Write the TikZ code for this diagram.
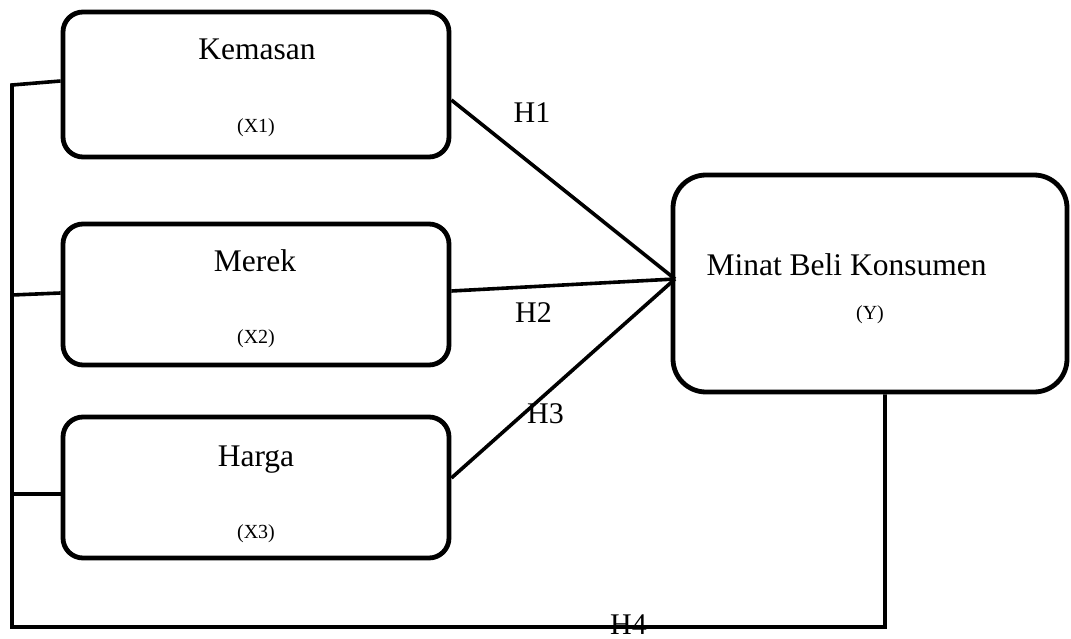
\documentclass[tikz,border=0pt]{standalone}
\usepackage{fontspec}
\setmainfont{Liberation Serif}
\usetikzlibrary{calc}
\tikzset{
  varbox/.style={draw=black, line width=4.8pt, rounded corners=20pt, inner sep=0pt, fill=white},
  ybox/.style={draw=black, line width=4.8pt, rounded corners=33pt, inner sep=0pt, fill=white},
  conn/.style={draw=black, line width=3.6pt, line join=miter},
  mainlbl/.style={anchor=base, inner sep=0pt, font=\fontsize{31.5}{36}\selectfont},
  sublbl/.style={anchor=base, inner sep=0pt, font=\fontsize{20}{24}\selectfont},
  hlbl/.style={anchor=base, inner sep=0pt, font=\fontsize{30}{34}\selectfont}
}
\begin{document}
\begin{tikzpicture}[x=1pt,y=-1pt]
\useasboundingbox (0,0) rectangle (1071,639);
% boxes
\node[varbox, minimum width=386pt, minimum height=145pt] (k) at (256,84.5) {};
\node[varbox, minimum width=386pt, minimum height=141pt] (m) at (256,294.5) {};
\node[varbox, minimum width=386pt, minimum height=141pt] (h) at (256,487.5) {};
\node[ybox, minimum width=394pt, minimum height=217pt] (y) at (870,283.5) {};
% texts
\node[mainlbl] (tk) at (257,60) {Kemasan};
\node[sublbl] (sk) at (256,133) {(X1)};
\node[mainlbl] (tm) at (255,272) {Merek};
\node[sublbl] (sm) at (256,343) {(X2)};
\node[mainlbl] (th) at (256,466) {Harga};
\node[sublbl] (sh) at (256,538) {(X3)};
\node[mainlbl] (ty) at (846.5,276) {Minat Beli Konsumen};
\node[sublbl] (sy) at (870,319) {(Y)};
% connector coordinates
\coordinate (c) at (675,279);
\coordinate (l1) at (12,85);
\coordinate (l2) at (12,295);
\coordinate (l3) at (12,494);
\coordinate (lb) at (12,627);
\coordinate (rb) at (885,627);
% connectors to Y
\draw[conn] ($(k.east)+(0,15.5)$) -- (c);
\draw[conn] ($(m.east)+(0,-3.5)$) -- (c);
\draw[conn] ($(h.east)+(0,-9.5)$) -- (c);
% left frame and stubs
\draw[conn] ($(k.west)+(0,-3.5)$) -- (l1) -- (lb) -- (rb) -- ($(y.south)+(15,0)$);
\draw[conn] (l2) -- ($(m.west)+(0,-1.5)$);
\draw[conn] (l3) -- ($(h.west)+(0,6.5)$);
% hypothesis labels
\node[hlbl] (h1) at (532,123) {H1};
\node[hlbl] (h2) at (533.5,322) {H2};
\node[hlbl] (h3) at (545.5,423) {H3};
\node[hlbl] (h4) at (628.5,634) {H4};
\end{tikzpicture}
\end{document}
